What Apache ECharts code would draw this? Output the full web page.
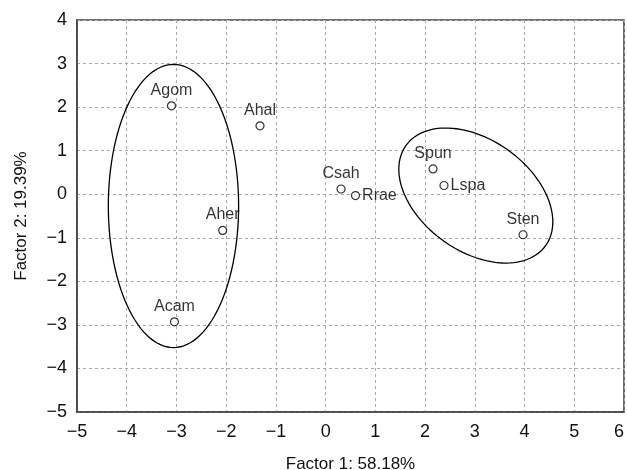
<!DOCTYPE html>
<html>
<head>
<meta charset="utf-8">
<script src="https://cdn.jsdelivr.net/npm/echarts@6/dist/echarts.min.js"></script>
<style>
html,body{margin:0;padding:0;background:#fff;}
#chart{width:627px;height:470px;}
</style>
</head>
<body>
<div id="chart"></div>
<script>
// ---- data ----
var names = ['Agom', 'Ahal', 'Aher', 'Acam', 'Csah', 'Rrae', 'Spun', 'Lspa', 'Sten'];
var factor1 = [-3.10, -1.32, -2.07, -3.04, 0.31, 0.60, 2.16, 2.38, 3.97];
var factor2 = [2.03, 1.57, -0.83, -2.93, 0.12, -0.03, 0.58, 0.20, -0.93];
var xTicks = [-5, -4, -3, -2, -1, 0, 1, 2, 3, 4, 5, 6];
var yTicks = [-5, -4, -3, -2, -1, 0, 1, 2, 3, 4];
// ellipses: centre, and two conjugate semi-axis vectors (data units)
var ellipseCentreX = [-3.06, 3.02];
var ellipseCentreY = [-0.27, -0.03];
var ellipseAxisA = [[1.31, 0.00], [1.41, -1.14]];
var ellipseAxisB = [[0.00, 3.25], [-0.64, -1.05]];

var FONT = '"Liberation Sans", Arial, sans-serif';
var rightLabelled = {Rrae: true, Lspa: true};

var pointData = names.map(function (n, i) {
  return {
    name: n,
    value: [factor1[i], factor2[i]],
    label: rightLabelled[n] ? {position: 'right', distance: 2} : {position: 'top', distance: 3}
  };
});
var ellipseData = ellipseCentreX.map(function (cx, i) { return [cx, ellipseCentreY[i], i]; });

function fmt(v) { return String(v).replace('-', '\u2212'); }

var chart = echarts.init(document.getElementById('chart'), null, {renderer: 'canvas'});
chart.setOption({
  animation: false,
  backgroundColor: '#fff',
  grid: {left: 77, right: 3, top: 20, bottom: 58, outerBoundsMode: 'none', containLabel: false,
         show: true, borderColor: '#444', borderWidth: 1.6, backgroundColor: 'transparent'},
  xAxis: {
    type: 'value', min: xTicks[0], max: xTicks[xTicks.length - 1], interval: 1,
    name: 'Factor 1: 58.18%', nameLocation: 'middle', nameGap: 44,
    nameTextStyle: {fontFamily: FONT, fontSize: 17, color: '#111'},
    axisLine: {show: true, onZero: false, lineStyle: {color: '#444', width: 1.6}},
    axisTick: {show: false},
    axisLabel: {fontFamily: FONT, fontSize: 18, color: '#111', margin: 11, formatter: fmt, alignMaxLabel: 'right'},
    splitLine: {show: true, lineStyle: {color: '#aaa', type: [3, 3], width: 1}}
  },
  yAxis: {
    type: 'value', min: yTicks[0], max: yTicks[yTicks.length - 1], interval: 1,
    name: 'Factor 2: 19.39%', nameLocation: 'middle', nameGap: 47,
    nameTextStyle: {fontFamily: FONT, fontSize: 17, color: '#111'},
    axisLine: {show: true, onZero: false, lineStyle: {color: '#444', width: 1.6}},
    axisTick: {show: false},
    axisLabel: {fontFamily: FONT, fontSize: 18, color: '#111', margin: 10, formatter: fmt},
    splitLine: {show: true, lineStyle: {color: '#aaa', type: [3, 3], width: 1}}
  },
  series: [
    {
      type: 'custom',
      coordinateSystem: 'cartesian2d',
      silent: true,
      z: 1,
      data: ellipseData,
      renderItem: function (params, api) {
        var i = api.value(2);
        var cx = api.value(0), cy = api.value(1);
        var a = ellipseAxisA[i], b = ellipseAxisB[i];
        var pts = [];
        var N = 120;
        for (var k = 0; k < N; k++) {
          var t = 2 * Math.PI * k / N;
          var c = Math.cos(t), s = Math.sin(t);
          pts.push(api.coord([cx + a[0] * c + b[0] * s, cy + a[1] * c + b[1] * s]));
        }
        return {type: 'polygon', shape: {points: pts}, style: {fill: 'none', stroke: '#000', lineWidth: 1.3}};
      }
    },
    {
      type: 'scatter',
      z: 3,
      symbol: 'circle',
      symbolSize: 8,
      itemStyle: {color: '#fff', borderColor: '#000', borderWidth: 1.2},
      label: {show: true, formatter: '{b}', fontFamily: FONT, fontSize: 16, color: '#000'},
      data: pointData
    }
  ]
});
</script>
</body>
</html>
